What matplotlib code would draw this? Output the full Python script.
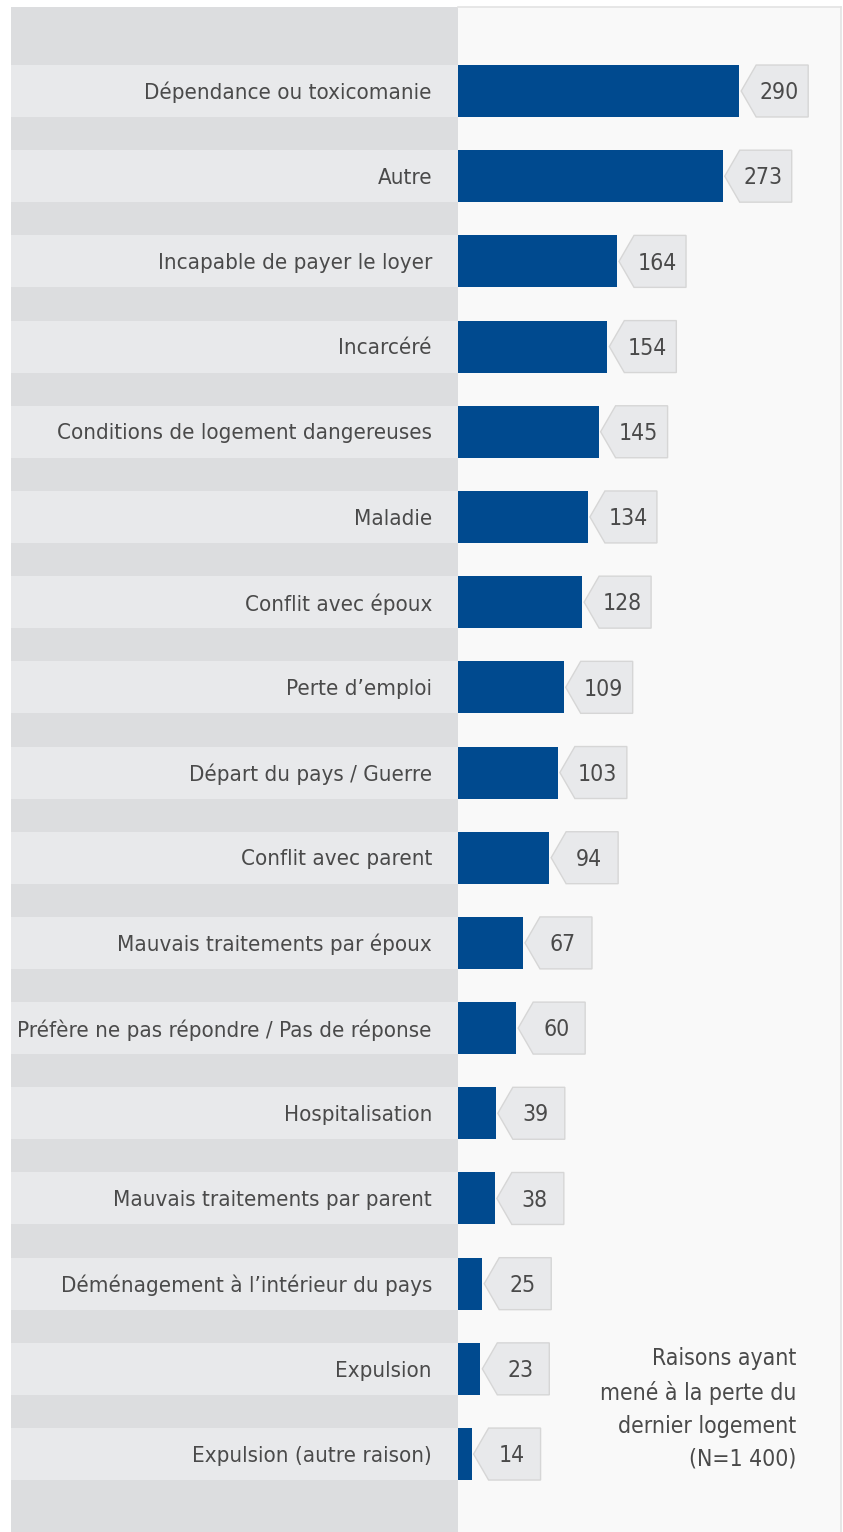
import matplotlib
matplotlib.use("Agg")
import matplotlib.pyplot as plt
from matplotlib.patches import Polygon

# reasons for losing the last home, counts out of N=1 400
reasons = [
    "Dépendance ou toxicomanie",
    "Autre",
    "Incapable de payer le loyer",
    "Incarcéré",
    "Conditions de logement dangereuses",
    "Maladie",
    "Conflit avec époux",
    "Perte d\u2019emploi",
    "Départ du pays / Guerre",
    "Conflit avec parent",
    "Mauvais traitements par époux",
    "Préfère ne pas répondre / Pas de réponse",
    "Hospitalisation",
    "Mauvais traitements par parent",
    "Déménagement à l\u2019intérieur du pays",
    "Expulsion",
    "Expulsion (autre raison)",
]
counts = [290, 273, 164, 154, 145, 134, 128, 109, 103, 94, 67, 60, 39, 38, 25, 23, 14]
note = "Raisons ayant\nmené à la perte du\ndernier logement\n(N=1 400)"

plt.rcParams['font.family'] = ['DejaVu Sans']
plt.rcParams['font.stretch'] = 'condensed'

BLUE = "#004a8f"
TXT = "#4a4a4a"
W, H = 843, 1532

fig = plt.figure(figsize=(W / 100, H / 100), dpi=100, facecolor="white")

top, bottom = 7, 1532
ypos = range(len(reasons))
ylim = (16.915, -0.986)
band_h = 0.61

# left column: category labels on striped grey
axl = fig.add_axes([11 / W, 0, 447 / W, (bottom - top) / H])
axl.set_facecolor("#dcdddf")
axl.set_xlim(0, 1)
axl.set_ylim(*ylim)
axl.barh(ypos, [1] * len(reasons), height=band_h, left=0, color="#e8e9eb")
for i, lab in enumerate(reasons):
    axl.text(1 - 26 / 447, i + 0.02, lab, ha="right", va="center",
             fontsize=16, color=TXT)
axl.set_xticks([])
axl.set_yticks([])
for s in axl.spines.values():
    s.set_visible(False)

# right column: bars with arrow-shaped value tags
axr = fig.add_axes([458 / W, 0, 383 / W, (bottom - top) / H])
axr.set_facecolor("#f9f9f9")
axr.set_xlim(0, 395)
axr.set_ylim(*ylim)
axr.barh(ypos, counts, height=band_h, color=BLUE)
axr.set_xticks([])
axr.set_yticks([])
for k, s in axr.spines.items():
    s.set_visible(k in ("top", "right"))
    s.set_color("#e3e3e3")
    s.set_linewidth(1.2)

# pixel -> data conversion for the tag shapes
ax_w_px = 383
px = (axr.get_xlim()[1] - axr.get_xlim()[0]) / ax_w_px
half = band_h / 2
for i, v in enumerate(counts):
    tip = v + 2 * px
    verts = [
        (tip, i),
        (tip + 15 * px, i - half),
        (tip + 67 * px, i - half),
        (tip + 67 * px, i + half),
        (tip + 15 * px, i + half),
    ]
    axr.add_patch(Polygon(verts, closed=True, facecolor="#e8e9eb",
                          edgecolor="#d6d6d6", linewidth=1.0))
    axr.text(tip + 38 * px, i + 0.02, str(v), ha="center", va="center",
             fontsize=16.5, color=TXT)

fig.text(796 / W, 1 - 1409 / H, note, ha="right", va="center",
         fontsize=16.5, color=TXT, linespacing=1.55)

fig.savefig("out.png", dpi=100, facecolor="white")
